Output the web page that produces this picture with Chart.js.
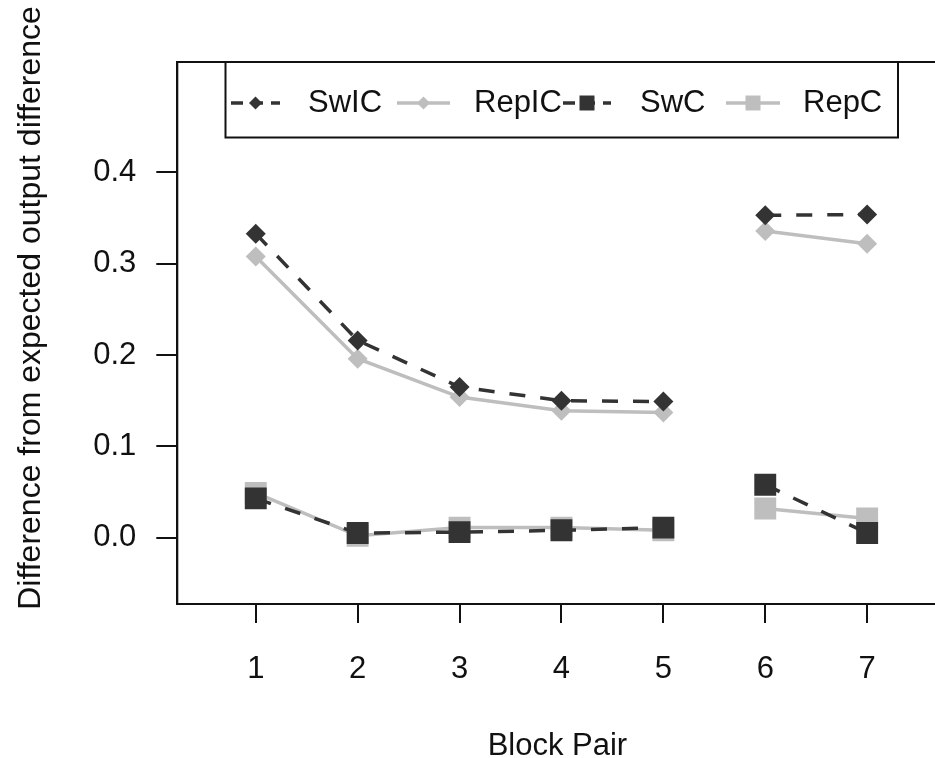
<!DOCTYPE html>
<html>
<head>
<meta charset="utf-8">
<script src="https://cdn.jsdelivr.net/npm/chart.js@4.4.1/dist/chart.umd.min.js"></script>
<style>
  html, body { margin: 0; padding: 0; background: #fff; overflow: hidden; width: 935px; height: 758px; }
  #wrap { width: 953px; height: 758px; position: relative; }
</style>
</head>
<body>
<div id="wrap"><canvas id="c" width="953" height="758"></canvas></div>
<script>
// ---- data ----
const blockPairs = [1, 2, 3, 4, 5, 6, 7];
const swIC  = [0.333, 0.216, 0.165, 0.150, 0.149, 0.353, 0.354];
const repIC = [0.308, 0.196, 0.154, 0.139, 0.137, 0.336, 0.322];
const swC   = [0.043, 0.005, 0.006, 0.008, 0.011, 0.058, 0.005];
const repC  = [0.049, 0.002, 0.011, 0.011, 0.008, 0.032, 0.021];
const seriesNames = ['SwIC', 'RepIC', 'SwC', 'RepC'];
const xTickValues = [1, 2, 3, 4, 5, 6, 7];
const yTickValues = [0.0, 0.1, 0.2, 0.3, 0.4];
const xTitle = 'Block Pair';
const yTitle = 'Difference from expected output difference';
const breakAfterPair = 5;

const DARK = '#333333';
const LIGHT = '#bebebe';
const INK = '#111111';
const FONT = "'Liberation Sans', Arial, sans-serif";
const FSIZE = 31;

function pts(vals) { return blockPairs.map((x, i) => ({ x: x, y: vals[i] })); }
const gapSegment = {
  borderColor: ctx => (ctx.p0.parsed.x === breakAfterPair ? 'rgba(0,0,0,0)' : undefined)
};

function ds(label, vals, color, dashed, style, radius, order) {
  return {
    label: label,
    data: pts(vals),
    borderColor: color,
    backgroundColor: color,
    borderWidth: 3.5,
    borderDash: dashed ? [16, 15] : [],
    pointStyle: style,
    pointRadius: radius,
    pointHoverRadius: radius,
    pointBorderWidth: 0,
    pointBackgroundColor: color,
    segment: gapSegment,
    tension: 0,
    order: order
  };
}

const datasets = [
  ds(seriesNames[0], swIC, DARK, true, 'rectRot', 10, 1),
  ds(seriesNames[1], repIC, LIGHT, false, 'rectRot', 10, 2),
  ds(seriesNames[2], swC, DARK, true, 'rect', 15.5, 3),
  ds(seriesNames[3], repC, LIGHT, false, 'rect', 15.5, 4)
];

const boxPlugin = {
  id: 'boxAndLegend',
  afterDraw(chart) {
    const ctx = chart.ctx;
    const a = chart.chartArea;
    ctx.save();
    ctx.strokeStyle = INK;
    ctx.lineWidth = 2;
    ctx.setLineDash([]);
    ctx.strokeRect(a.left, a.top, a.right - a.left, a.bottom - a.top);

    // axis titles
    ctx.fillStyle = INK;
    ctx.font = FSIZE + 'px ' + FONT;
    ctx.textAlign = 'center';
    ctx.textBaseline = 'alphabetic';
    ctx.fillText(xTitle, (a.left + a.right) / 2, 755);
    ctx.save();
    ctx.translate(39.5, 308);
    ctx.rotate(-Math.PI / 2);
    ctx.font = '32px ' + FONT;
    ctx.fillText(yTitle, 0, 0);
    ctx.restore();

    // legend box
    const lx0 = 225.5, lx1 = 898, ly0 = a.top, ly1 = 137.5;
    ctx.fillStyle = '#fff';
    ctx.fillRect(lx0, ly0, lx1 - lx0, ly1 - ly0);
    ctx.strokeRect(lx0, ly0, lx1 - lx0, ly1 - ly0);

    const ly = 103;
    const entries = [
      { x0: 231, x1: 280, tx: 308 },
      { x0: 397, x1: 450, tx: 474 },
      { x0: 563, x1: 611, tx: 640 },
      { x0: 726, x1: 780, tx: 803 }
    ];
    chart.data.datasets.forEach((d, i) => {
      const e = entries[i];
      ctx.strokeStyle = d.borderColor;
      ctx.lineWidth = d.borderWidth;
      ctx.setLineDash(d.borderDash && d.borderDash.length ? [12, 8] : []);
      ctx.beginPath();
      ctx.moveTo(e.x0, ly);
      ctx.lineTo(e.x1, ly);
      ctx.stroke();
      ctx.setLineDash([]);
      const cx = (e.x0 + e.x1) / 2;
      ctx.fillStyle = d.borderColor;
      ctx.beginPath();
      if (d.pointStyle === 'rectRot') {
        const r = 6.5;
        ctx.moveTo(cx - r, ly); ctx.lineTo(cx, ly - r); ctx.lineTo(cx + r, ly); ctx.lineTo(cx, ly + r);
        ctx.closePath();
      } else {
        const h = 7.5;
        ctx.rect(cx - h, ly - h, 2 * h, 2 * h);
      }
      ctx.fill();
      ctx.fillStyle = INK;
      ctx.font = FSIZE + 'px ' + FONT;
      ctx.textAlign = 'left';
      ctx.textBaseline = 'middle';
      ctx.fillText(d.label, e.tx, ly);
    });
    ctx.restore();
  }
};

const AREA_RIGHT = 937;

new Chart(document.getElementById('c'), {
  type: 'line',
  data: { datasets: datasets },
  plugins: [boxPlugin],
  options: {
    responsive: false,
    animation: false,
    events: [],
    layout: { padding: { left: 0, top: 62, right: 0, bottom: 0 } },
    plugins: { legend: { display: false }, tooltip: { enabled: false } },
    scales: {
      x: {
        type: 'linear',
        min: 0.23,
        max: 0.23 + (AREA_RIGHT - 177.3) / 101.83,
        afterBuildTicks: s => { s.ticks = xTickValues.map(v => ({ value: v })); },
        afterFit: s => { s.height = 154; s.paddingLeft = 0; s.paddingRight = 0; },
        grid: { drawOnChartArea: false, drawTicks: true, tickLength: 19, color: INK, lineWidth: 2 },
        border: { display: true, color: INK, width: 2 },
        ticks: { color: INK, font: { family: FONT, size: FSIZE }, padding: 28, maxRotation: 0, autoSkip: false,
                 callback: v => String(v) },
        title: { display: false }
      },
      y: {
        type: 'linear',
        min: -0.0727,
        max: 0.521,
        afterBuildTicks: s => { s.ticks = yTickValues.map(v => ({ value: v })); },
        afterFit: s => { s.width = 177.3; s.paddingTop = 0; s.paddingBottom = 0; },
        grid: { drawOnChartArea: false, drawTicks: true, tickLength: 21, color: INK, lineWidth: 2 },
        border: { display: true, color: INK, width: 2 },
        ticks: { color: INK, font: { family: FONT, size: FSIZE }, padding: 20, autoSkip: false,
                 callback: v => v.toFixed(1) },
        title: { display: false }
      }
    }
  }
});
</script>
</body>
</html>
